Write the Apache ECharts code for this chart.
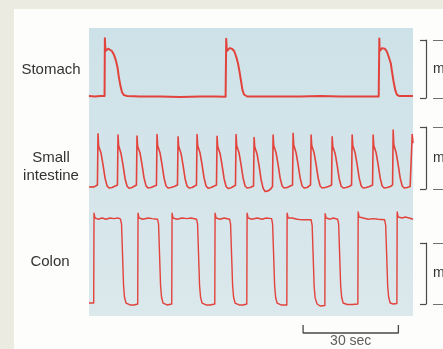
<!DOCTYPE html>
<html><head><meta charset="utf-8">
<script src="https://cdn.jsdelivr.net/npm/echarts@6.0.0/dist/echarts.min.js"></script>
<style>html,body{margin:0;padding:0;background:#ecebe2}#c{width:443px;height:349px}</style>
</head><body><div id="c"></div>
<script>
// time axis in seconds
const timeMin = 0, timeMax = 102;
const traceLabels = ['Stomach', 'Small\nintestine', 'Colon'];
const bracketTicks = ['—', '—'];
const bracketName = 'm';

// Stomach pressure trace [sec, relative pressure]
const stomach = [
[0,3.4],[1.9,2.6],[3.5,3.4],[4.9,3.4],[5.0,103],[5.2,81],[5.5,83],[6.0,85],[6.6,84],[7.2,81],[7.9,74],[8.5,64],[9.0,52],[9.4,36],[9.9,21],[10.4,10],[11.0,5],[12.0,3.4],[16.1,2.6],[22.4,2.6],[28.7,1.7],[35.0,2.6],[39.7,2.6],[43.0,2.1],
[43.2,102],[43.4,81],[43.7,83],[44.3,86],[45.0,85],[45.7,81],[46.3,72],[46.9,60],[47.4,45],[47.9,28],[48.3,14],[48.8,6],[49.8,2.6],[57.0,2.6],[66.5,2.6],[72.8,3.4],[79.1,2.6],[85.4,2.6],[91.2,2.6],
[91.4,102.6],[91.5,81],[91.8,83],[92.3,86],[93.1,85],[93.7,81],[94.3,72],[95.0,60],[95.4,45],[95.9,28],[96.4,14],[96.9,6],[97.7,3.4],[102,3.4]
];

// Small intestine pressure trace
const smallIntestine = [
[0,3.2],[1.6,3.5],[2.65,6.5],[2.84,89],[3.03,69],[3.31,68],[3.79,58],[4.42,39],[5.04,18],[5.68,5],[6.31,1.6],[7.25,2.4],
[8.95,6.5],[9.14,87],[9.33,70],[9.61,67],[10.09,57],[10.72,38],[11.34,17],[11.98,4.5],[12.61,1.2],[13.55,2.4],
[14.93,6.5],[15.12,85.5],[15.31,69],[15.59,68],[16.07,58],[16.7,39],[17.32,18],[17.96,5],[18.59,1.6],[19.53,2.4],
[21.23,6],[21.42,88],[21.61,70],[21.89,68],[22.37,58],[23.0,39],[23.62,18],[24.26,4.8],[24.89,1.6],[25.83,2.4],[26.8,4],
[27.85,6.5],[28.04,84],[28.23,69],[28.51,67],[28.99,57],[29.62,38],[30.24,17],[30.88,4.5],[31.51,1.6],[32.45,2.4],
[33.83,6.5],[34.02,88],[34.21,70],[34.49,68],[34.97,58],[35.6,39],[36.22,18],[36.86,4.8],[37.49,1.2],[38.43,2.4],
[40.13,6.5],[40.32,85],[40.51,69],[40.79,67],[41.27,57],[41.9,38],[42.52,17],[43.16,4],[43.79,0.8],[44.73,2],
[46.11,6],[46.3,88],[46.49,70],[46.77,68],[47.25,58],[47.88,39],[48.5,18],[49.14,4.8],[49.77,1.6],[50.7,2.4],
[51.79,5],[51.98,83],[52.17,68],[52.45,66],[52.93,56],[53.56,37],[54.18,15],[54.82,1],[55.45,-4],[56.4,-3],[57.2,0],
[57.77,4],[57.96,87],[58.15,70],[58.43,68],[58.91,58],[59.54,39],[60.16,18],[60.8,4.8],[61.43,1.6],[62.37,2.4],
[64.07,6.5],[64.26,90],[64.45,71],[64.73,68],[65.21,58],[65.84,39],[66.46,18],[67.1,4.8],[67.73,1.6],[68.67,2.4],
[69.74,6.5],[69.93,87],[70.12,70],[70.4,68],[70.88,58],[71.51,39],[72.13,18],[72.77,4.8],[73.4,1.6],[74.34,2.4],[75.4,4],
[76.36,6.5],[76.55,84],[76.74,69],[77.02,67],[77.5,57],[78.13,38],[78.75,17],[79.39,4.5],[80.02,1.6],[80.96,2.4],[81.9,4],
[82.66,6.5],[82.85,87],[83.04,70],[83.32,68],[83.8,58],[84.43,39],[85.05,18],[85.69,4.8],[86.32,1.6],[87.26,2.4],[88.3,4],
[89.27,6.5],[89.46,87],[89.65,70],[89.93,68],[90.41,58],[91.04,39],[91.66,18],[92.3,4.8],[92.93,1.6],[93.87,2.4],[94.9,4],
[95.57,6.5],[95.76,95],[95.95,72],[96.23,69],[96.71,58],[97.34,39],[97.96,18],[98.6,4.8],[99.23,1.6],[100.17,2.4],[101.1,4],
[101.56,6.5],[101.75,88],[102,74]
];

// Colon pressure trace
const colon = [
[0,1.6],[1.48,1.6],[1.58,149],[1.89,141],[2.84,139],[4.1,141],[5.36,139],[6.62,141],[7.88,140],[9.14,141],[9.92,139],
[10.24,131],[10.87,31],[11.18,11],[11.66,1.6],[12.92,-1.6],[14.18,-1.6],[15.34,0],
[15.44,149],[15.75,141],[17.01,139],[18.59,141],[19.85,140],[21.58,139],
[21.9,131],[22.52,31],[22.84,11],[23.31,1.6],[24.57,-1.6],[26.05,0],
[26.15,149],[26.46,141],[27.72,139],[29.3,141],[30.87,140],[32.13,141],[33.86,139],
[34.18,131],[34.8,31],[35.12,11],[35.6,1.6],[36.86,-1.6],[38.12,-1.6],[39.6,0],
[39.69,149],[40.0,141],[41.27,139],[42.53,141],[44.26,139],
[44.57,131],[45.2,31],[45.52,11],[46.0,1.6],[47.25,-1.6],[48.51,-1.6],[49.68,0],
[49.77,149],[50.09,141],[51.35,139],[52.92,141],[54.5,139],[55.76,141],[57.49,140],
[57.8,131],[58.43,31],[58.75,11],[59.22,1.6],[60.48,-1.6],[62.28,-1.6],
[62.37,149],[62.69,141],[63.95,141],[65.52,139],[67.1,138],[68.36,138],[69.93,138],
[70.25,129],[70.88,29],[71.19,10],[71.82,0],[72.77,-3.3],[74.25,-2.5],
[74.34,148],[74.66,141],[75.92,139],[76.86,141],[78.28,139],
[78.59,131],[79.22,31],[79.54,11],[80.01,1.6],[81.27,-0.8],[82.85,-0.8],[84.64,0],
[84.74,151],[85.05,142.6],[86.31,141],[87.89,139],[89.46,140],[91.04,139],[93.08,138],
[93.4,129],[94.03,29],[94.34,11],[94.82,1.6],[95.76,0],[96.93,0.8],
[97.02,151],[97.34,142.6],[98.6,141],[99.54,142.6],[100.8,141],[102,139]
];

// 30-second time scale bar
const scaleBar = [[67.4,1],[67.4,0],[97.4,0],[97.4,1]];
const scaleBarLabel = '30 sec';
const scaleBarLabelAt = [[82.4,0]];

const FONT = '"Liberation Sans", Arial, sans-serif';
const RED = '#e2433c';
const DARK = '#4a4a4a';

const grids = [
  {left:89, right:30, top:40, height:58},
  {left:89, right:30, top:127, height:62},
  {left:89, right:30, top:243, height:61},
  {left:89, right:30, top:325, height:8}
].map(g => Object.assign(g, {containLabel:false, outerBoundsMode:'none'}));

function bracketAxis(i){
  return {
    type:'value', gridIndex:i, position:'right', offset:13, min:0, max:100, interval:100,
    axisLine:{show:true, onZero:false, lineStyle:{color:DARK, width:1.2}},
    axisTick:{show:true, inside:true, length:6, lineStyle:{color:DARK, width:1.2}},
    splitLine:{show:false},
    axisLabel:{show:true, showMinLabel:true, showMaxLabel:true, margin:7, color:'#444', fontSize:11, fontFamily:FONT,
      formatter:(v)=> v===0 ? bracketTicks[1] : bracketTicks[0]},
    name:bracketName, nameLocation:'middle', nameGap:7, nameRotate:0, nameMoveOverlap:false,
    nameTextStyle:{color:'#333', fontSize:14, fontFamily:FONT, align:'left', verticalAlign:'middle'}
  };
}

const chart = echarts.init(document.getElementById('c'), null, {renderer:'canvas'});
chart.setOption({
  animation:false,
  backgroundColor:'#ecebe2',
  graphic:{elements:[
    {type:'rect', z:-10, shape:{x:14, y:9, width:429, height:340}, style:{fill:'#fdfdfb'}},
    {type:'rect', z:-9, shape:{x:89, y:28, width:324, height:288},
      style:{fill:new echarts.graphic.LinearGradient(0,0,0,1,[{offset:0,color:'#cde2e8'},{offset:1,color:'#dbe8ec'}])}},
    {type:'text', x:51, y:70, style:{text:traceLabels[0], font:'15px '+FONT, fill:'#333', align:'center', verticalAlign:'middle'}},
    {type:'text', x:51, y:167, style:{text:traceLabels[1], font:'15px '+FONT, fill:'#333', align:'center', verticalAlign:'middle', lineHeight:18}},
    {type:'text', x:50, y:262, style:{text:traceLabels[2], font:'15px '+FONT, fill:'#333', align:'center', verticalAlign:'middle'}}
  ]},
  grid:grids,
  xAxis:grids.map((g,i)=>({type:'value', gridIndex:i, min:timeMin, max:timeMax, show:false})),
  yAxis:[bracketAxis(0), bracketAxis(1), bracketAxis(2),
    {type:'value', gridIndex:3, min:0, max:1, show:false}],
  series:[
    {type:'line', xAxisIndex:0, yAxisIndex:0, data:stomach, showSymbol:false, clip:false,
      lineStyle:{color:RED, width:2, join:'round'}},
    {type:'line', xAxisIndex:1, yAxisIndex:1, data:smallIntestine, showSymbol:false, clip:false,
      lineStyle:{color:RED, width:1.6, join:'round'}},
    {type:'line', xAxisIndex:2, yAxisIndex:2, data:colon, showSymbol:false, clip:false,
      lineStyle:{color:RED, width:1.4, join:'round'}},
    {type:'line', xAxisIndex:3, yAxisIndex:3, data:scaleBar, showSymbol:false, clip:false,
      lineStyle:{color:DARK, width:1.3}},
    {type:'scatter', xAxisIndex:3, yAxisIndex:3, data:scaleBarLabelAt, symbolSize:0, clip:false,
      label:{show:true, position:'bottom', distance:1, formatter:scaleBarLabel, color:'#333', fontSize:14, fontFamily:FONT}}
  ]
});
</script></body></html>
